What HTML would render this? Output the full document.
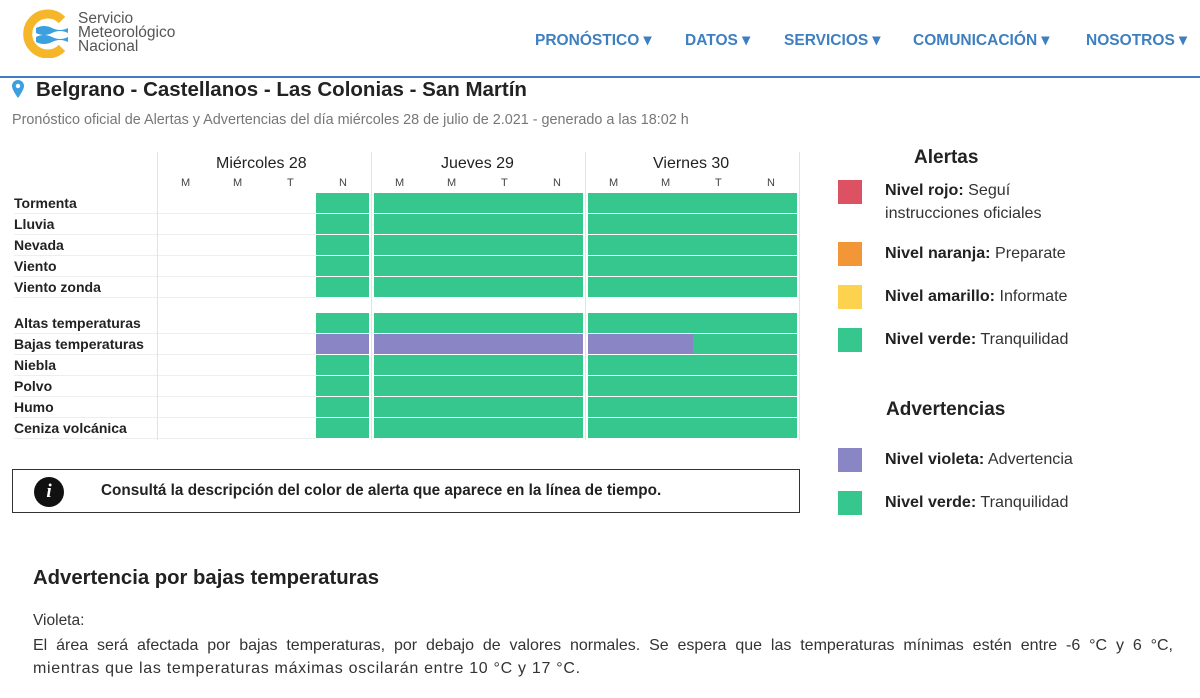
<!DOCTYPE html>
<html><head><meta charset="utf-8">
<style>
*{margin:0;padding:0;box-sizing:border-box}
body{width:1200px;height:698px;background:#fff;font-family:"Liberation Sans",sans-serif;position:relative;overflow:hidden;color:#222}
.a{position:absolute;white-space:nowrap}
.nav{color:#3d7fc1;font-weight:bold;font-size:16px;top:30px;transform:scaleX(0.97);transform-origin:left}
.lbl{font-weight:bold;font-size:14px;left:14px;color:#222}
.c{position:absolute;height:20px}
.g{background:#36c78f}
.v{background:#8a86c6}
.sq{position:absolute;left:838px;width:24px;height:24px}
.lt{position:absolute;left:885px;font-size:16.1px;color:#333;line-height:23px}
.lt b{color:#222}
.vl{position:absolute;width:1px;background:#e3e3e3;top:152px;height:288px}
.sm{font-size:11px;color:#444;top:177px}
.hd{font-size:16px;color:#222;top:155px}
</style></head><body>
<svg class="a" style="left:20px;top:8px" width="60" height="50" viewBox="0 0 60 50">
<path d="M42 12 A20 20 0 1 0 42 40" fill="none" stroke="#f5b62a" stroke-width="9"/>
<path d="M16 20 q8 -4 16 0 t16 0 v5 q-8 -4 -16 0 t-16 0z" fill="#3b9fe0"/>
<path d="M16 29 q8 -4 16 0 t16 0 v5 q-8 -4 -16 0 t-16 0z" fill="#3b9fe0"/>
</svg>
<div class="a" style="left:78px;top:12px;font-size:15.5px;line-height:14px;color:#555">Servicio<br>Meteorológico<br>Nacional</div>
<div class="a nav" style="left:535px">PRONÓSTICO ▾</div>
<div class="a nav" style="left:685px">DATOS ▾</div>
<div class="a nav" style="left:784px">SERVICIOS ▾</div>
<div class="a nav" style="left:913px">COMUNICACIÓN ▾</div>
<div class="a nav" style="left:1086px">NOSOTROS ▾</div>
<div class="a" style="left:0;top:76px;width:1200px;height:2px;background:#3d7fc1"></div>
<svg class="a" style="left:12px;top:80px" width="12" height="18" viewBox="0 0 12 18"><path d="M6 0A6 6 0 0 0 0 6c0 4 6 12 6 12s6-8 6-12A6 6 0 0 0 6 0z" fill="#3b9fe0"/><circle cx="6" cy="6" r="2.2" fill="#fff"/></svg>
<div class="a" style="left:36px;top:78px;font-size:20.5px;font-weight:bold;color:#222">Belgrano - Castellanos - Las Colonias - San Martín</div>
<div class="a" style="left:12px;top:112px;font-size:14.4px;color:#777">Pronóstico oficial de Alertas y Advertencias del día miércoles 28 de julio de 2.021 - generado a las 18:02 h</div>

<div class="vl" style="left:157px"></div><div class="vl" style="left:371px"></div><div class="vl" style="left:585px"></div><div class="vl" style="left:799px"></div>
<div class="a hd" style="left:216px">Miércoles 28</div>
<div class="a hd" style="left:441px">Jueves 29</div>
<div class="a hd" style="left:653px">Viernes 30</div>
<div class="a sm" style="left:181px">M</div><div class="a sm" style="left:233px">M</div><div class="a sm" style="left:287px">T</div><div class="a sm" style="left:339px">N</div>
<div class="a sm" style="left:395px">M</div><div class="a sm" style="left:447px">M</div><div class="a sm" style="left:501px">T</div><div class="a sm" style="left:553px">N</div>
<div class="a sm" style="left:609px">M</div><div class="a sm" style="left:661px">M</div><div class="a sm" style="left:715px">T</div><div class="a sm" style="left:767px">N</div>

<div id="rows"></div>
<script>
var r=[["Tormenta",193],["Lluvia",214],["Nevada",235],["Viento",256],["Viento zonda",277],["Altas temperaturas",313],["Bajas temperaturas",334],["Niebla",355],["Polvo",376],["Humo",397],["Ceniza volcánica",418]];
var h="";
r.forEach(function(x){var t=x[1];
h+='<div class="a lbl" style="top:'+(t+2)+'px">'+x[0]+'</div>';
h+='<div class="c" style="left:14px;width:143px;top:'+(t+20)+'px;height:1px;background:#eee"></div>';
h+='<div class="c" style="left:158px;width:158px;top:'+(t+20)+'px;height:1px;background:#eee"></div>';
if(x[0]=="Bajas temperaturas"){
h+='<div class="c v" style="left:316px;width:53px;top:'+t+'px"></div><div class="c v" style="left:374px;width:209px;top:'+t+'px"></div><div class="c v" style="left:588px;width:105px;top:'+t+'px"></div><div class="c g" style="left:693px;width:104px;top:'+t+'px"></div>';
}else{
h+='<div class="c g" style="left:316px;width:53px;top:'+t+'px"></div><div class="c g" style="left:374px;width:209px;top:'+t+'px"></div><div class="c g" style="left:588px;width:209px;top:'+t+'px"></div>';}
});
document.getElementById("rows").innerHTML=h;
</script>

<div class="a" style="left:12px;top:469px;width:788px;height:44px;border:1px solid #333"></div>
<div class="a" style="left:34px;top:477px;width:30px;height:30px;border-radius:50%;background:#111;color:#fff;font:bold italic 19px 'Liberation Serif',serif;text-align:center;line-height:30px">i</div>
<div class="a" style="left:101px;top:482px;font-size:15.3px;font-weight:bold;color:#222">Consultá la descripción del color de alerta que aparece en la línea de tiempo.</div>

<div class="a" style="left:914px;top:147px;font-size:19px;font-weight:bold">Alertas</div>
<div class="sq" style="top:180px;background:#dc5262"></div>
<div class="lt" style="top:179px"><b>Nivel rojo:</b> Seguí<br>instrucciones oficiales</div>
<div class="sq" style="top:242px;background:#f39638"></div>
<div class="lt" style="top:242px"><b>Nivel naranja:</b> Preparate</div>
<div class="sq" style="top:285px;background:#fcd24f"></div>
<div class="lt" style="top:285px"><b>Nivel amarillo:</b> Informate</div>
<div class="sq" style="top:328px;background:#36c78f"></div>
<div class="lt" style="top:328px"><b>Nivel verde:</b> Tranquilidad</div>
<div class="a" style="left:886px;top:399px;font-size:19px;font-weight:bold">Advertencias</div>
<div class="sq" style="top:448px;background:#8a86c6"></div>
<div class="lt" style="top:448px"><b>Nivel violeta:</b> Advertencia</div>
<div class="sq" style="top:491px;background:#36c78f"></div>
<div class="lt" style="top:491px"><b>Nivel verde:</b> Tranquilidad</div>

<div class="a" style="left:33px;top:567px;font-size:20.3px;font-weight:bold;color:#222">Advertencia por bajas temperaturas</div>
<div class="a" style="left:33px;top:612px;font-size:15.5px;color:#333">Violeta:</div>
<div class="a" style="left:33px;top:634px;width:1140px;font-size:16px;color:#333;line-height:23px;white-space:normal;text-align:justify;text-align-last:justify">El área será afectada por bajas temperaturas, por debajo de valores normales. Se espera que las temperaturas mínimas estén entre -6 °C y 6 °C,</div>
<div class="a" style="left:33px;top:657px;font-size:16px;letter-spacing:0.7px;color:#333;line-height:23px">mientras que las temperaturas máximas oscilarán entre 10 °C y 17 °C.</div>
</body></html>
